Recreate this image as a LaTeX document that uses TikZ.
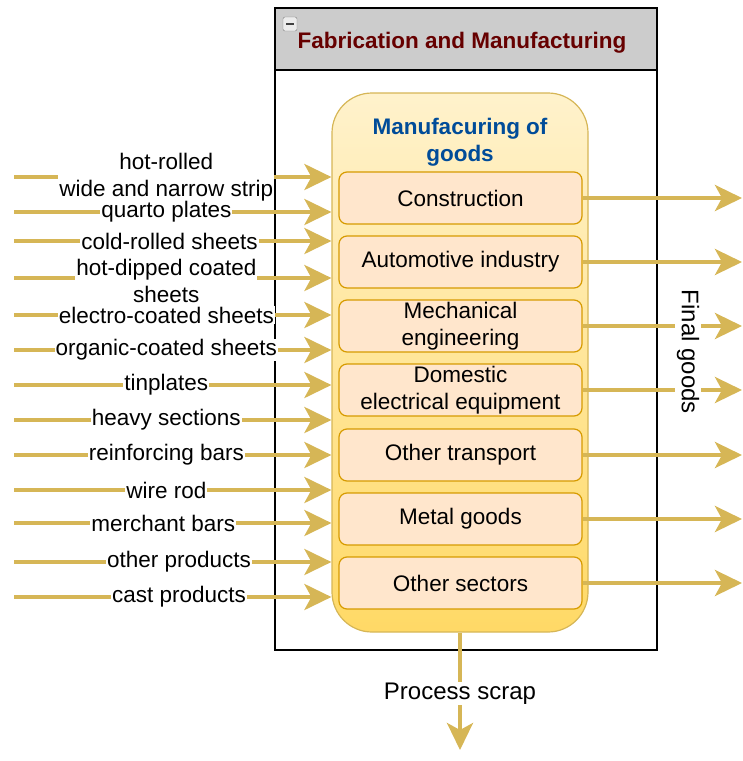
\documentclass[tikz,border=0pt]{standalone}
\usepackage{fontspec}
\setmainfont{Liberation Sans}
\usepackage{tikz}
\definecolor{flowc}{HTML}{D6B656}
\definecolor{boxfill}{HTML}{FFE6CC}
\definecolor{boxline}{HTML}{D79B00}
\definecolor{darkred}{HTML}{660000}
\definecolor{darkblue}{HTML}{004C99}
\definecolor{lightyel}{HTML}{FFF2CC}
\definecolor{darkyel}{HTML}{FFD966}
\definecolor{headgray}{HTML}{CCCCCC}
\usetikzlibrary{arrows.meta,positioning,calc}
\tikzset{flow/.style={
    draw=flowc,
    line width=4pt,
    -{Stealth[length=27pt,width=26pt,inset=7pt]}},
  sector/.style={
    draw=boxline,
    fill=boxfill,
    line width=1.2pt,
    rounded corners=8pt,
    minimum width=243pt,
    minimum height=52pt,
    inner ysep=0pt,
    align=center},
  prod/.style={
    fill=white,
    inner sep=1pt,
    align=center}}

\begin{document}
\begin{tikzpicture}[x=1pt, y=-1pt, font=\fontsize{22.5}{27}\selectfont]
  \useasboundingbox (0,0) rectangle (743,761);
  \coordinate (FAB) at (466,329);
\coordinate (HEAD) at (466,39);
\coordinate (GOODS) at (460,362.5);
\coordinate (OUT) at (742,0);
\coordinate (SCRAP) at (460,750);

% outer container
\node[draw,
  line width=1.2pt,
  minimum width=382pt,
  minimum height=642pt] (fab) at (FAB) {};

\node[draw,
  fill=headgray,
  line width=1.2pt,
  minimum width=382pt,
  minimum height=62pt] (head) at (HEAD) {};

\node[text=darkred,
  font=\fontsize{22.5}{27}\selectfont\bfseries] (fabtitle) at (462,43) {Fabrication and Manufacturing};

\node[draw=gray,
  fill=gray!15,
  rounded corners=2pt,
  minimum size=14pt,
  inner sep=0pt] (icon) at (290,24) {};
\draw[line width=2pt, darkgray] ([xshift=3.5pt]icon.west) -- ([xshift=-3.5pt]icon.east);

% manufacturing of goods
\node[draw=flowc,
  top color=lightyel,
  bottom color=darkyel,
  line width=1.2pt,
  rounded corners=40pt,
  minimum width=256pt,
  minimum height=539pt] (goods) at (GOODS) {};

\node[text=darkblue,
  align=center,
  font=\fontsize{22.5}{27}\selectfont\bfseries] (gtitle) at (460,142) {Manufacuring of\\goods};

\node[sector] (s1) at (460.5,198) {Construction};
\node[sector] (s2) at (460.5,262) {Automotive industry};
\node[sector] (s3) at (460.5,326) {Mechanical\\engineering};
\node[sector] (s4) at (460.5,390) {Domestic\\electrical equipment};
\node[sector] (s5) at (460.5,455) {Other transport};
\node[sector] (s6) at (460.5,519) {Metal goods};
\node[sector] (s7) at (460.5,583) {Other sectors};

% steel products in
\coordinate (i1) at (14,177);
\coordinate (i2) at (14,212);
\coordinate (i3) at (14,241);
\coordinate (i4) at (14,278);
\coordinate (i5) at (14,315);
\coordinate (i6) at (14,350);
\coordinate (i7) at (14,385);
\coordinate (i8) at (14,420);
\coordinate (i9) at (14,455);
\coordinate (i10) at (14,490);
\coordinate (i11) at (14,523);
\coordinate (i12) at (14,562);
\coordinate (i13) at (14,597);

\draw[flow] (i1) -- node[prod, pos=0.48] (p1) {hot-rolled\\wide and narrow strip} (i1 -| goods.west);
\draw[flow] (i2) -- node[prod, pos=0.48] (p2) {quarto plates} (i2 -| goods.west);
\draw[flow] (i3) -- node[prod, pos=0.49] (p3) {cold-rolled sheets} (i3 -| goods.west);
\draw[flow] (i4) -- node[prod, pos=0.48, yshift=-3pt] (p4) {hot-dipped coated\\sheets} (i4 -| goods.west);
\draw[flow] (i5) -- node[prod, pos=0.48] (p5) {electro-coated sheets} (i5 -| goods.west);
\draw[flow] (i6) -- node[prod, pos=0.48] (p6) {organic-coated sheets} (i6 -| goods.west);
\draw[flow] (i7) -- node[prod, pos=0.48] (p7) {tinplates} (i7 -| goods.west);
\draw[flow] (i8) -- node[prod, pos=0.48] (p8) {heavy sections} (i8 -| goods.west);
\draw[flow] (i9) -- node[prod, pos=0.48] (p9) {reinforcing bars} (i9 -| goods.west);
\draw[flow] (i10) -- node[prod, pos=0.48] (p10) {wire rod} (i10 -| goods.west);
\draw[flow] (i11) -- node[prod, pos=0.47] (p11) {merchant bars} (i11 -| goods.west);
\draw[flow] (i12) -- node[prod, pos=0.52] (p12) {other products} (i12 -| goods.west);
\draw[flow] (i13) -- node[prod, pos=0.52] (p13) {cast products} (i13 -| goods.west);

% final goods out
\draw[flow] (s1.east) -- (s1.east -| OUT);
\draw[flow] (s2.east) -- (s2.east -| OUT);
\draw[flow] (s3.east) -- (s3.east -| OUT);
\draw[flow] (s4.east) -- (s4.east -| OUT);
\draw[flow] (s5.east) -- (s5.east -| OUT);
\draw[flow] (s6.east) -- (s6.east -| OUT);
\draw[flow] (s7.east) -- (s7.east -| OUT);

\node[fill=white,
  inner sep=2pt,
  rotate=-90,
  font=\fontsize{24}{28}\selectfont] (final) at (688,352) {Final goods};

% scrap
\draw[flow] (goods.south) -- node[prod, pos=0.52, font=\fontsize{24}{28}\selectfont] (scrap) {Process scrap} (SCRAP);

\end{tikzpicture}
\end{document}
